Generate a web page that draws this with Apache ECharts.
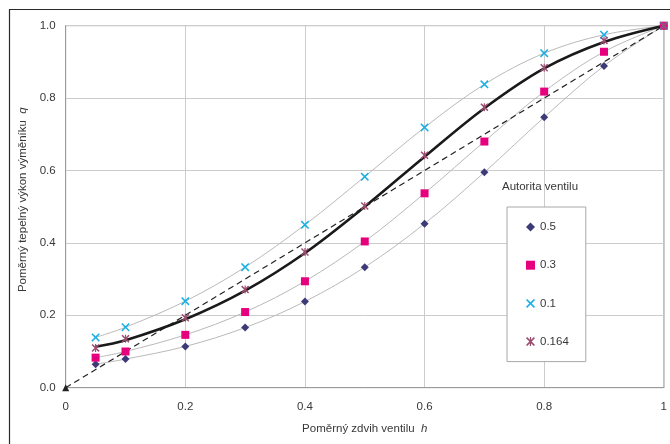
<!DOCTYPE html>
<html>
<head>
<meta charset="utf-8">
<script src="https://cdn.jsdelivr.net/npm/echarts@6/dist/echarts.min.js"></script>
<style>
html,body{margin:0;padding:0;background:#fff;}
#chart{width:670px;height:444px;}
</style>
</head>
<body>
<div id="chart"></div>
<script>
// ---- data ----
const hValues = [0.05, 0.1, 0.2, 0.3, 0.4, 0.5, 0.6, 0.7, 0.8, 0.9, 1.0];
const qAuth05 = [0.065, 0.079, 0.114, 0.166, 0.238, 0.333, 0.453, 0.595, 0.747, 0.889, 1.0];
const qAuth03 = [0.083, 0.100, 0.146, 0.209, 0.294, 0.404, 0.537, 0.680, 0.818, 0.928, 1.0];
const qAuth01 = [0.139, 0.167, 0.239, 0.333, 0.450, 0.583, 0.719, 0.838, 0.924, 0.975, 1.0];
const qAuth0164 = [0.110, 0.135, 0.193, 0.271, 0.375, 0.502, 0.642, 0.775, 0.884, 0.959, 1.0];
const fitCurve0164 = [0.113, 0.131, 0.189, 0.268, 0.372, 0.500, 0.638, 0.772, 0.882, 0.955, 1.0];
const diagH = [0, 1];
const diagQ = [0, 1];
const seriesNames = ['0.5', '0.3', '0.1', '0.164'];
const xTickLabels = ['0', '0.2', '0.4', '0.6', '0.8', '1'];
const yTickLabels = ['0.0', '0.2', '0.4', '0.6', '0.8', '1.0'];
const legendTitle = 'Autorita ventilu';
const xAxisName = 'Poměrný zdvih ventilu  ';
const xAxisVar = 'h';
const yAxisName = 'Poměrný tepelný výkon výměníku  ';
const yAxisVar = 'q';

// ---- helpers ----
const pair = (xs, ys) => xs.map((x, i) => [x, ys[i]]);
const FONT = "'Liberation Sans', Arial, sans-serif";
const FS = 11.5;
const TXT = '#383838';
const xPath = 'path://M0,1.3L1.3,0L5,3.7L8.7,0L10,1.3L6.3,5L10,8.7L8.7,10L5,6.3L1.3,10L0,8.7L3.7,5Z';
const starPath = 'path://M0,1.3L1.3,0L5,3.7L8.7,0L10,1.3L6.3,5L10,8.7L8.7,10L5,6.3L1.3,10L0,8.7L3.7,5Z M4.3,0L5.7,0L5.7,10L4.3,10Z';
const colors = ['#3d3a78', '#e6007e', '#1aafe6', '#9b4d70'];
const symbols = ['diamond', 'rect', xPath, starPath];
const sizes = [8, 8, 8.5, 8];
const dataSets = [qAuth05, qAuth03, qAuth01, qAuth0164];

const chart = echarts.init(document.getElementById('chart'), null, {renderer: 'canvas'});

const series = [];
// thin grey curves through the markers
[qAuth05, qAuth03, qAuth01].forEach((ys, i) => {
  series.push({
    name: 'curve' + i, type: 'line', data: pair(hValues, ys), smooth: 0.35,
    showSymbol: false, symbol: 'none', z: 1, silent: true,
    lineStyle: {color: '#b9b9b9', width: 1}
  });
});
// diagonal dashed line
series.push({
  name: 'diag', type: 'line', data: pair(diagH, diagQ), z: 2, silent: true,
  symbol: 'triangle', symbolSize: 7, showSymbol: true,
  itemStyle: {color: '#222'},
  lineStyle: {color: '#222', width: 1.2, type: [6, 4]}
});
// thick black curve
series.push({
  name: 'fit', type: 'line', data: pair(hValues, fitCurve0164), smooth: 0.35,
  showSymbol: false, symbol: 'none', z: 3, silent: true,
  lineStyle: {color: '#1a1a1a', width: 2.6}
});
// markers
dataSets.forEach((ys, i) => {
  series.push({
    name: seriesNames[i], type: 'scatter', data: pair(hValues, ys), z: 4,
    symbol: symbols[i], symbolSize: sizes[i], symbolKeepAspect: true,
    itemStyle: {color: colors[i], opacity: 1}
  });
});

chart.setOption({
  animation: false,
  backgroundColor: '#ffffff',
  textStyle: {fontFamily: FONT},
  grid: {left: 65.7, right: 4.3, top: 25.7, bottom: 56.3, show: true, borderColor: '#a8a8a8', borderWidth: 1, containLabel: false},
  xAxis: {
    type: 'value', min: 0, max: 1, interval: 0.2,
    name: xAxisName + '{i|' + xAxisVar + '}', nameLocation: 'middle', nameGap: 35,
    nameTextStyle: {color: TXT, fontSize: FS, fontFamily: FONT, rich: {i: {fontStyle: 'italic', fontSize: FS, color: TXT, fontFamily: FONT}}},
    axisLine: {show: true, lineStyle: {color: '#9a9a9a', width: 1}},
    axisTick: {show: false},
    axisLabel: {color: TXT, fontSize: FS, margin: 13, fontFamily: FONT,
      formatter: v => xTickLabels[Math.round(v / 0.2)]},
    splitLine: {show: true, lineStyle: {color: '#cccccc', width: 1}}
  },
  yAxis: {
    type: 'value', min: 0, max: 1, interval: 0.2,
    name: yAxisName + '{i|' + yAxisVar + '}', nameLocation: 'middle', nameGap: 26, nameRotate: 90,
    nameTextStyle: {color: TXT, fontSize: FS, fontFamily: FONT, padding: [0, 0, 0, 14], rich: {i: {fontStyle: 'italic', fontSize: FS, color: TXT, fontFamily: FONT}}},
    axisLine: {show: true, lineStyle: {color: '#9a9a9a', width: 1}},
    axisTick: {show: false},
    axisLabel: {color: TXT, fontSize: FS, margin: 10, fontFamily: FONT,
      formatter: v => yTickLabels[Math.round(v / 0.2)]},
    splitLine: {show: true, lineStyle: {color: '#cccccc', width: 1}}
  },
  legend: {
    data: seriesNames.map(n => ({name: n})),
    orient: 'vertical', left: 507, top: 207,
    itemWidth: 9, itemHeight: 9, itemGap: 26.2,
    padding: [14, 17, 14, 19],
    backgroundColor: '#ffffff', borderColor: '#a8a8a8', borderWidth: 1, borderRadius: 0,
    textStyle: {color: TXT, fontSize: FS, fontFamily: FONT},
    selectedMode: false
  },
  graphic: [
    {type: 'rect', silent: true, z: 10,
      shape: {x: 9.5, y: 9.5, width: 720, height: 520},
      style: {fill: 'none', stroke: '#2a2a2a', lineWidth: 1.2}},
    {type: 'text', silent: true, z: 10,
      x: 540, y: 187,
      style: {text: legendTitle, fill: TXT, font: FS + 'px ' + FONT, align: 'center', verticalAlign: 'middle'}}
  ],
  series: series
});
</script>
</body>
</html>
